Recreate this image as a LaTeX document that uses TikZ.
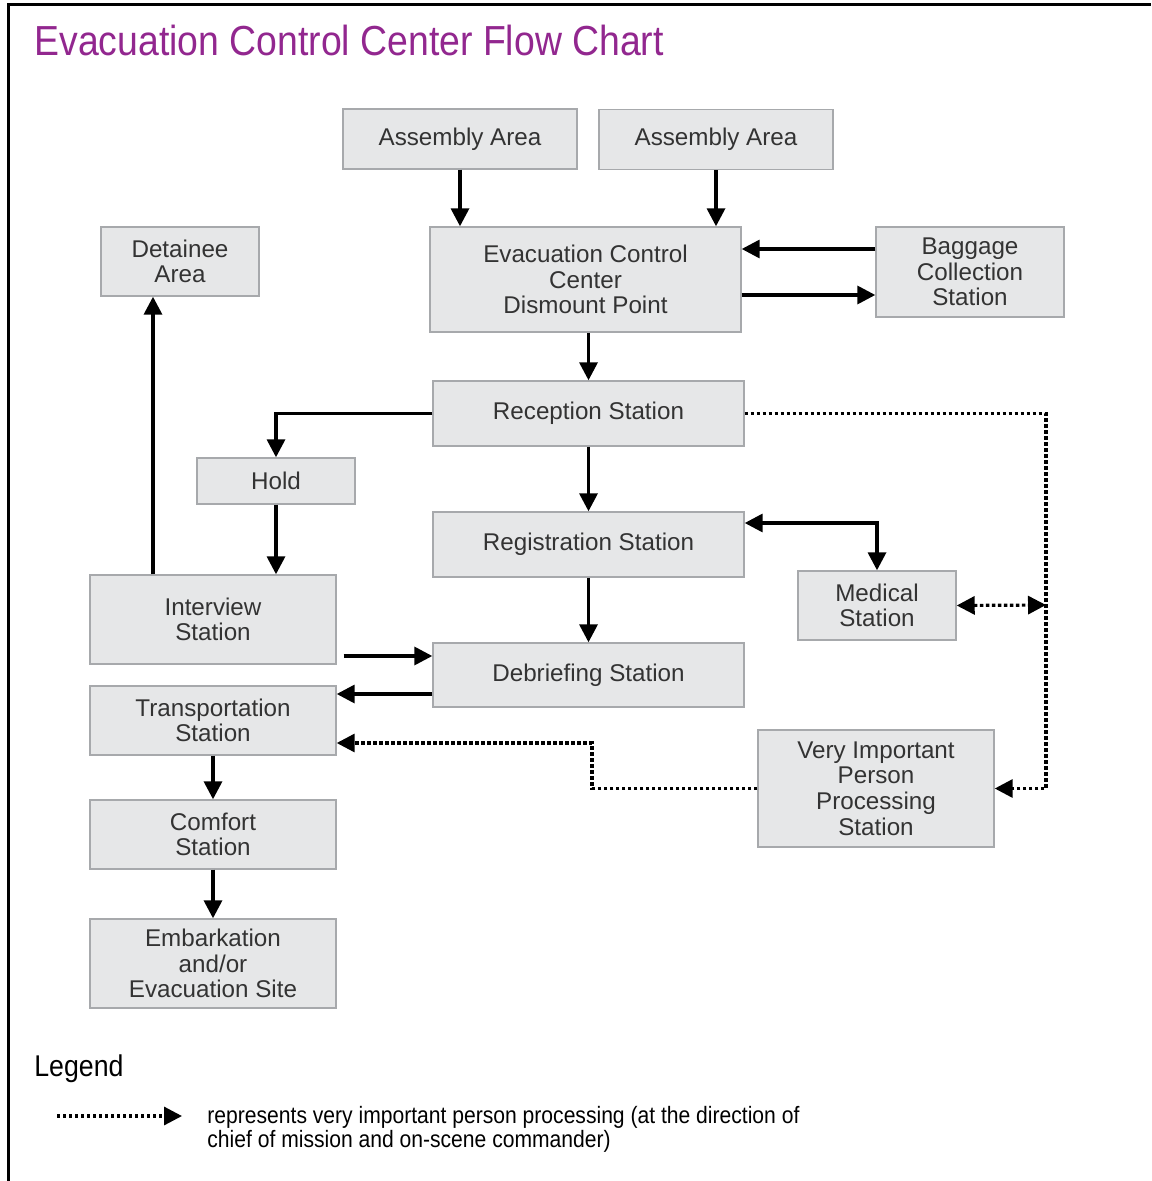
\documentclass[tikz,border=0pt]{standalone}
\usepackage{fontspec}
\setmainfont{Liberation Sans}
\newfontfamily\narrowfont[FakeStretch=0.89]{Liberation Sans}
\usetikzlibrary{arrows.meta,calc}
\definecolor{boxfill}{RGB}{230,231,232}
\definecolor{boxline}{RGB}{167,169,172}
\definecolor{boxtext}{RGB}{51,51,51}
\definecolor{titlepurple}{RGB}{146,39,143}
\tikzset{
  station/.style={draw=boxline, fill=boxfill, line width=0.7pt, text=boxtext,
    align=center, inner sep=0pt, font=\fontsize{12.1}{12.8}\selectfont},
  boxsize/.style 2 args={minimum width=#1*0.5pt, minimum height=#2*0.5pt},
  flow/.style={line width=1.7pt, ->},
  vipflow/.style={line width=1.6pt, dash pattern=on 1.7pt off 1.3pt, ->},
}

\begin{document}
\begin{tikzpicture}[x=0.5pt, y=-0.5pt, >={Triangle[length=9pt,width=9pt]}]
	\useasboundingbox (0,0) rectangle (1151,1181);
	\draw[line width=1.5pt] (8,1181) -- (8,4.5) -- (1151,4.5);
	\node[anchor=base west, inner sep=0pt, text=titlepurple, font=\narrowfont\fontsize{21}{24}\selectfont] (title) at (34,56) {Evacuation Control Center Flow Chart};

	\node[station, boxsize={234}{60}] (aa1) at (460,139) {Assembly Area};
	\node[station, boxsize={234}{60}] (aa2) at (716,139.5) {Assembly Area};
	\node[station, boxsize={158}{69}] (detain) at (180,261.5) {Detainee\\Area};
	\node[station, boxsize={311}{105}] (ecc) at (585.5,279.5) {Evacuation Control\\Center\\Dismount Point};
	\node[station, boxsize={188}{90}] (bag) at (970,272) {Baggage\\Collection\\Station};
	\node[station, boxsize={311}{65}] (recep) at (588.5,413.5) {Reception Station};
	\node[station, boxsize={158}{46}] (hold) at (276,481) {Hold};
	\node[station, boxsize={311}{65}] (regis) at (588.5,544.5) {Registration Station};
	\node[station, boxsize={158}{69}] (medic) at (877,605.5) {Medical\\Station};
	\node[station, boxsize={246}{89}] (inter) at (213,619.5) {Interview\\Station};
	\node[station, boxsize={311}{64}] (debrief) at (588.5,675) {Debriefing Station};
	\node[station, boxsize={246}{69}] (transp) at (213,720.5) {Transportation\\Station};
	\node[station, boxsize={236}{117}] (vip) at (876,788.5) {Very Important\\Person\\Processing\\Station};
	\node[station, boxsize={246}{69}] (comfort) at (213,834.5) {Comfort\\Station};
	\node[station, boxsize={246}{89}] (embark) at (213,963.5) {Embarkation\\and/or\\Evacuation Site};

	\draw[flow] (aa1.south) -- (aa1.south |- ecc.north);
	\draw[flow] (aa2.south) -- (aa2.south |- ecc.north);
	\draw[flow] (bag.west |- 0,249) -- (ecc.east |- 0,249);
	\draw[flow] (ecc.east |- 0,295) -- (bag.west |- 0,295);
	\draw[flow] (recep.north |- ecc.south) -- (recep.north);
	\draw[flow] (recep.west) -| (hold.north);
	\draw[flow] (hold.south) -- (hold.south |- inter.north);
	\draw[flow] (recep.south) -- (regis.north);
	\draw[flow, <->] (regis.east |- 0,523) -| (medic.north);
	\draw[flow] (regis.south) -- (debrief.north);
	\draw[flow, shorten <=3.5pt] (inter.east |- 0,656) -- (debrief.west |- 0,656);
	\draw[flow] (debrief.west |- 0,694) -- (transp.east |- 0,694);
	\draw[flow] (inter.north -| 153,0) -- (detain.south -| 153,0);
	\draw[flow] (transp.south) -- (comfort.north);
	\draw[flow] (comfort.south) -- (embark.north);

	\coordinate (vipbus) at (1046,605);
	\coordinate (vipbend) at (592,743);
	\draw[vipflow] (recep.east) -| (vip.east -| vipbus) -- (vip.east);
	\draw[vipflow, <->] (medic.east) -- (vipbus);
	\draw[vipflow] (vip.west) -| (vipbend) -- (transp.east |- vipbend);

	\node[anchor=base west, inner sep=0pt, font=\narrowfont\fontsize{15}{18}\selectfont] (legend) at (34,1076) {Legend};
	\coordinate (keystart) at (57,1116);
	\coordinate (keyend) at (182,1116);
	\draw[vipflow] (keystart) -- (keyend);
	\node[anchor=north west, inner sep=0pt, align=left, font=\narrowfont\fontsize{11.85}{10.5}\selectfont] (legendtext) at (207,1106) {represents very important person processing (at the direction of\\chief of mission and on-scene commander)};
\end{tikzpicture}
\end{document}
